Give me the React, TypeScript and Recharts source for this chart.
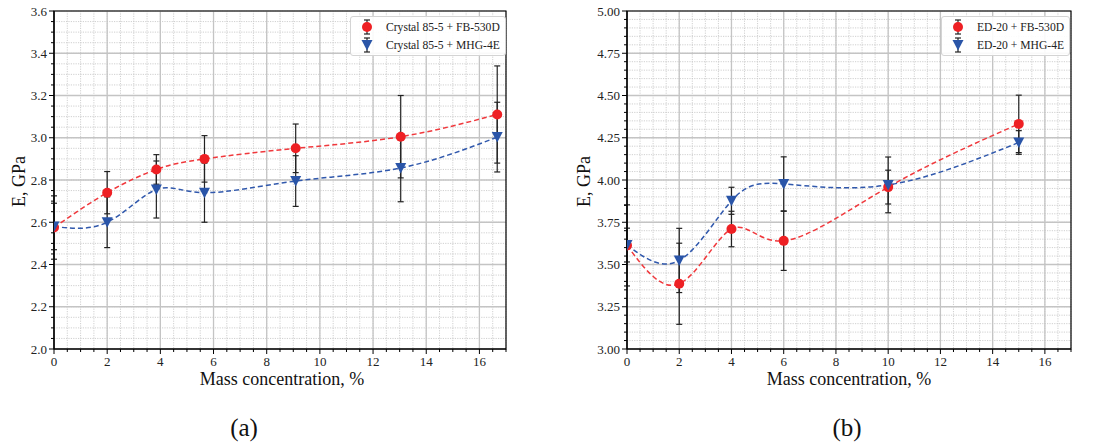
import React from 'react';
import { ComposedChart, Line, ErrorBar, XAxis, YAxis, CartesianGrid, ReferenceArea, Legend } from 'recharts';

// panel (a): Crystal 85-5
const xA = [0, 2, 3.85, 5.66, 9.09, 13.04, 16.67];
const redA = [2.575, 2.74, 2.85, 2.9, 2.95, 3.005, 3.11];
const redAErr = [0.15, 0.1, 0.07, 0.11, 0.115, 0.195, 0.23];
const blueA = [2.58, 2.6, 2.755, 2.74, 2.795, 2.857, 3.003];
const blueAErr = [0.11, 0.12, 0.135, 0.14, 0.12, 0.16, 0.165];
const namesA = ['Crystal 85-5 + FB-530D', 'Crystal 85-5 + MHG-4E'];
const yMajorA = [2.0, 2.2, 2.4, 2.6, 2.8, 3.0, 3.2, 3.4, 3.6];

// panel (b): ED-20
const xB = [0, 2, 4, 6, 10, 15];
const redB = [3.613, 3.386, 3.71, 3.64, 3.958, 4.332];
const redBErr = [0.24, 0.24, 0.105, 0.175, 0.1, 0.17];
const blueB = [3.615, 3.524, 3.877, 3.977, 3.971, 4.222];
const blueBErr = [0.1, 0.19, 0.08, 0.16, 0.165, 0.07];
const namesB = ['ED-20 + FB-530D', 'ED-20 + MHG-4E'];
const yMajorB = [3.0, 3.25, 3.5, 3.75, 4.0, 4.25, 4.5, 4.75, 5.0];

const xMajor = [0, 2, 4, 6, 8, 10, 12, 14, 16];
const xLabel = 'Mass concentration, %';
const yLabel = 'E, GPa';

const RED = '#ee2024';
const BLUE = '#2a55a8';
const FONT = '"Liberation Serif", "DejaVu Serif", "Noto Serif", serif';

const range = (a: number, b: number, s: number) => {
  const out: number[] = [];
  for (let i = 0; a + i * s <= b + 1e-9; i++) out.push(+(a + i * s).toFixed(4));
  return out;
};
const isMajor = (v: number, majors: number[]) => majors.some((m) => Math.abs(m - v) < 1e-6);

const XTick = (props: any) => {
  const { x, y, payload, majors } = props;
  const major = isMajor(payload.value, majors);
  return (
    <g>
      <line x1={x} x2={x} y1={y} y2={y + (major ? 5 : 3)} stroke="#000" strokeWidth={1} />
      {major && (
        <text x={x} y={y + 17} textAnchor="middle" style={{ fontFamily: FONT }} fontSize={13} fill="#222">
          {payload.value}
        </text>
      )}
    </g>
  );
};

const YTick = (props: any) => {
  const { x, y, payload, majors, digits } = props;
  const major = isMajor(payload.value, majors);
  return (
    <g>
      <line x1={x - (major ? 5 : 3)} x2={x} y1={y} y2={y} stroke="#000" strokeWidth={1} />
      {major && (
        <text x={x - 7} y={y + 4.5} textAnchor="end" style={{ fontFamily: FONT }} fontSize={13} fill="#222">
          {payload.value.toFixed(digits)}
        </text>
      )}
    </g>
  );
};

const RedDot = (p: any) => <circle key={`r${p.index}`} cx={p.cx} cy={p.cy} r={5} fill={RED} />;
const BlueDot = (p: any) => (
  <path
    key={`b${p.index}`}
    d={`M${p.cx - 5.5},${p.cy - 5} L${p.cx + 5.5},${p.cy - 5} L${p.cx},${p.cy + 5.5} Z`}
    fill={BLUE}
  />
);

const LegendIcon = ({ kind }: { kind: 'red' | 'blue' }) => (
  <svg width={16} height={18}>
    <line x1={8} x2={8} y1={2} y2={16} stroke="#222" strokeWidth={1.2} />
    <line x1={5} x2={11} y1={2} y2={2} stroke="#222" strokeWidth={1.2} />
    <line x1={5} x2={11} y1={16} y2={16} stroke="#222" strokeWidth={1.2} />
    {kind === 'red' ? (
      <circle cx={8} cy={9} r={5} fill={RED} />
    ) : (
      <path d="M2.5,4 L13.5,4 L8,14.5 Z" fill={BLUE} />
    )}
  </svg>
);

const LegendBox = ({ names }: { names: string[] }) => (
  <div
    style={{
      border: '1px solid #d4d4d4',
      borderRadius: 3,
      background: 'rgba(255,255,255,0.9)',
      padding: '1px 5px 1px 8px',
      fontFamily: FONT,
      fontSize: 11.6,
      color: '#222',
    }}
  >
    {names.map((n, i) => (
      <div key={n} style={{ display: 'flex', alignItems: 'center', height: 18 }}>
        <LegendIcon kind={i === 0 ? 'red' : 'blue'} />
        <span style={{ marginLeft: 11, whiteSpace: 'nowrap' }}>{n}</span>
      </div>
    ))}
  </div>
);

type PanelProps = {
  left: number;
  width: number;
  xs: number[];
  red: number[];
  redErr: number[];
  blue: number[];
  blueErr: number[];
  names: string[];
  yMajor: number[];
  digits: number;
  yAxisWidth: number;
  marginRight: number;
  legendLeft: number;
  caption: string;
  captionX: number;
  xLabelX: number;
  yLabelX: number;
};

const Panel = (p: PanelProps) => {
  const redData = p.xs.map((x, i) => ({ x, y: p.red[i], err: p.redErr[i] }));
  const blueData = p.xs.map((x, i) => ({ x, y: p.blue[i], err: p.blueErr[i] }));
  const y0 = p.yMajor[0];
  const y1 = p.yMajor[p.yMajor.length - 1];
  const xMinor = range(0, 17, 0.5);
  const yMinor = range(y0, y1, 0.05);
  return (
    <div style={{ position: 'absolute', left: p.left, top: 0, width: p.width, height: 447 }}>
      <ComposedChart width={p.width} height={447} margin={{ top: 11, right: p.marginRight, bottom: 0, left: 0 }}>
        <CartesianGrid
          verticalValues={xMinor}
          horizontalValues={yMinor}
          stroke="#c4c4c4"
          strokeWidth={0.8}
          strokeDasharray="1.2 1.2"
        />
        <CartesianGrid verticalValues={xMajor} horizontalValues={p.yMajor} stroke="#c4c4c4" strokeWidth={1.3} />
        <XAxis
          type="number"
          dataKey="x"
          domain={[0, 17]}
          ticks={xMinor}
          interval={0}
          allowDataOverflow
          height={98}
          tickSize={0}
          tickMargin={0}
          tickLine={false}
          tick={<XTick majors={xMajor} />}
          axisLine={{ stroke: '#000', strokeWidth: 1.2 }}
        />
        <YAxis
          type="number"
          domain={[y0, y1]}
          ticks={yMinor}
          interval={0}
          allowDataOverflow
          width={p.yAxisWidth}
          tickSize={0}
          tickMargin={0}
          tickLine={false}
          tick={<YTick majors={p.yMajor} digits={p.digits} />}
          axisLine={{ stroke: '#000', strokeWidth: 1.2 }}
        />
        <ReferenceArea x1={0} x2={17} y1={y0} y2={y1} fill="none" stroke="#000" strokeWidth={1.2} />
        <Line
          data={redData}
          dataKey="y"
          type="natural"
          stroke="#f0383c"
          strokeWidth={1.5}
          strokeDasharray="5 3"
          dot={RedDot}
          activeDot={false}
          isAnimationActive={false}
        >
          <ErrorBar dataKey="err" direction="y" width={3} stroke="#222" strokeWidth={1.2} />
        </Line>
        <Line
          data={blueData}
          dataKey="y"
          type="natural"
          stroke="#3058ac"
          strokeWidth={1.5}
          strokeDasharray="5 3"
          dot={BlueDot}
          activeDot={false}
          isAnimationActive={false}
        >
          <ErrorBar dataKey="err" direction="y" width={3} stroke="#222" strokeWidth={1.2} />
        </Line>
        <Legend
          layout="horizontal"
          verticalAlign="middle"
          content={() => <LegendBox names={p.names} />}
          wrapperStyle={{ position: 'absolute', top: 16, left: p.legendLeft, width: 'auto' }}
        />
      </ComposedChart>
      <div
        style={{
          position: 'absolute',
          left: p.xLabelX - 150,
          width: 300,
          top: 369,
          textAlign: 'center',
          fontFamily: FONT,
          fontSize: 18,
          color: '#111',
        }}
      >
        {xLabel}
      </div>
      <div
        style={{
          position: 'absolute',
          left: p.yLabelX - 50,
          top: 171,
          width: 100,
          textAlign: 'center',
          transform: 'rotate(-90deg)',
          fontFamily: FONT,
          fontSize: 18,
          color: '#111',
        }}
      >
        {yLabel}
      </div>
      <div
        style={{
          position: 'absolute',
          left: p.captionX - 40,
          width: 80,
          top: 414,
          textAlign: 'center',
          fontFamily: FONT,
          fontSize: 25,
          color: '#111',
        }}
      >
        {p.caption}
      </div>
    </div>
  );
};

export default function App() {
  return (
    <div style={{ position: 'absolute', left: 0, top: 0, width: 1101, height: 447, background: '#fff', overflow: 'hidden' }}>
      <Panel
        left={0}
        width={550}
        xs={xA}
        red={redA}
        redErr={redAErr}
        blue={blueA}
        blueErr={blueAErr}
        names={namesA}
        yMajor={yMajorA}
        digits={1}
        yAxisWidth={54}
        marginRight={44}
        legendLeft={350}
        caption="(a)"
        captionX={244}
        xLabelX={282}
        yLabelX={19}
      />
      <Panel
        left={550}
        width={551}
        xs={xB}
        red={redB}
        redErr={redBErr}
        blue={blueB}
        blueErr={blueBErr}
        names={namesB}
        yMajor={yMajorB}
        digits={2}
        yAxisWidth={77}
        marginRight={30}
        legendLeft={391}
        caption="(b)"
        captionX={297}
        xLabelX={299}
        yLabelX={34}
      />
    </div>
  );
}
